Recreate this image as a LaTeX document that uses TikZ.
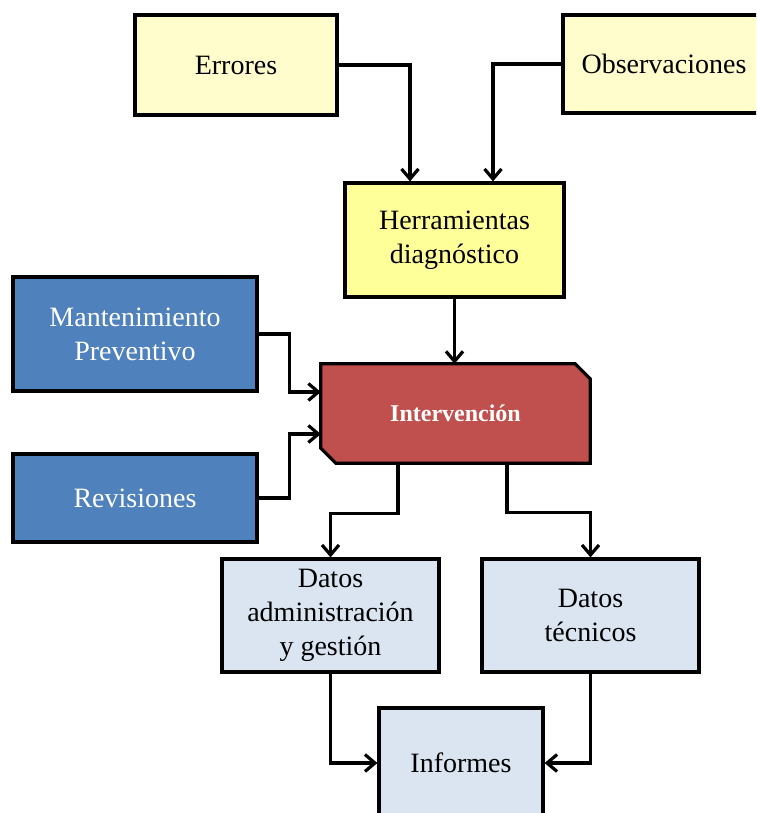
\documentclass[tikz,border=0pt]{standalone}
\usepackage{fontspec}
\setmainfont{Liberation Serif}
\usetikzlibrary{arrows.meta,calc}

\definecolor{paleyellow}{HTML}{FFFDCC}
\definecolor{toolyellow}{HTML}{FFFF99}
\definecolor{steelblue}{HTML}{4F81BD}
\definecolor{brickred}{HTML}{C0504D}
\definecolor{paleblue}{HTML}{DBE5F1}

\tikzset{
  box/.style={draw=black, line width=3.2pt, rectangle, inner sep=0pt, align=center,
    font=\fontsize{28}{34}\selectfont},
  inputbox/.style={box, fill=paleyellow},
  toolbox/.style={box, fill=toolyellow},
  sourcebox/.style={box, fill=steelblue, text=white},
  outbox/.style={box, fill=paleblue},
  link/.style={draw=black, line width=3.2pt, line join=miter, -{Straight Barb[length=10pt,width=17pt,line width=3.2pt]}}
}

\begin{document}
\begin{tikzpicture}[x=1pt, y=-1pt]
  \clip (0,0) rectangle (756,813);
  \fill[white] (0,0) rectangle (756,813);

  % top inputs and diagnostic tools
  \node[inputbox, minimum width=202pt, minimum height=100pt] (err) at (236,65) {Errores};
  \node[inputbox, minimum width=202pt, minimum height=98pt] (obs) at (664,64) {Observaciones};
  \node[toolbox, minimum width=219pt, minimum height=114pt] (herr) at (454.5,240) {Herramientas\\diagnóstico};

  % maintenance sources
  \node[sourcebox, minimum width=244pt, minimum height=114pt] (mant) at (135,334) {Mantenimiento\\Preventivo};
  \node[sourcebox, minimum width=244pt, minimum height=88pt] (rev) at (135,498) {Revisiones};

  % central intervention block with chamfered corners
  \node[inner sep=0pt, minimum width=269pt, minimum height=99pt] (interv) at (455.5,413.5) {};
  \draw[line width=3.2pt, fill=brickred, line join=miter]
    (interv.north west) -- ($(interv.north east)+(-15,0)$) -- ($(interv.north east)+(0,15)$)
    -- (interv.south east) -- ($(interv.south west)+(15,0)$) -- ($(interv.south west)+(0,-15)$) -- cycle;
  \node[text=white, font=\fontsize{24}{28}\selectfont\bfseries] at (interv.center) {Intervención};

  % data outputs and reports
  \node[outbox, minimum width=217pt, minimum height=113pt] (adm) at (330.5,615.5) {Datos\\administración\\y gestión};
  \node[outbox, minimum width=217pt, minimum height=113pt] (tec) at (590.5,615.5) {Datos\\técnicos};
  \node[outbox, minimum width=164pt, minimum height=110pt] (inf) at (461,763) {Informes};

  % connectors
  \draw[link] (err.east) -| ([xshift=-44.5pt]herr.north);
  \draw[link] (obs.west) -| ([xshift=38.5pt]herr.north);
  \draw[link] (herr.south) -- (herr.south |- interv.north);
  \draw[link] (mant.east) -- ++(31,0) |- ([yshift=21.5pt]interv.west);
  \draw[link] (rev.east) -- ++(31,0) |- ([yshift=-20.5pt]interv.west);
  \draw[link] ([xshift=-57.5pt]interv.south) -- ++(0,50) -| (adm.north);
  \draw[link] ([xshift=51.5pt]interv.south) -- ++(0,49) -| (tec.north);
  \draw[link] (adm.south) |- (inf.west);
  \draw[link] (tec.south) |- (inf.east);
\end{tikzpicture}
\end{document}
